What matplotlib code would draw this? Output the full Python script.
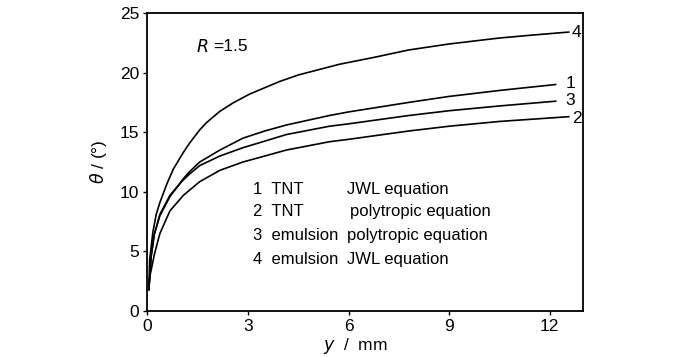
import matplotlib
matplotlib.use("Agg")
import matplotlib.pyplot as plt

plt.rcParams['font.family'] = ['Liberation Sans', 'DejaVu Sans']

# Curve data (y in mm, theta in degrees)
x1 = [0.04, 0.11, 0.2, 0.37, 0.67, 0.94, 1.07, 1.26, 1.56, 2.16, 2.85, 3.5, 4.14, 5.43, 6.0, 7.8, 9.0, 10.5, 12.18]
t1 = [1.8, 4.6, 6.4, 8.0, 9.6, 10.6, 11.1, 11.7, 12.5, 13.5, 14.5, 15.1, 15.6, 16.4, 16.7, 17.5, 18.0, 18.5, 19.0]

x2 = [0.04, 0.07, 0.21, 0.37, 0.67, 1.07, 1.56, 2.16, 2.85, 3.5, 4.14, 5.43, 6.0, 7.8, 9.0, 10.5, 12.57]
t2 = [1.8, 2.9, 4.8, 6.5, 8.4, 9.7, 10.85, 11.8, 12.5, 13.0, 13.5, 14.2, 14.4, 15.1, 15.5, 15.9, 16.3]

x3 = [0.04, 0.11, 0.2, 0.37, 0.67, 0.94, 1.07, 1.26, 1.56, 2.16, 2.85, 3.5, 4.14, 5.43, 6.0, 7.8, 9.0, 10.5, 12.18]
t3 = [1.8, 4.6, 6.4, 8.1, 9.7, 10.6, 11.0, 11.5, 12.2, 13.0, 13.7, 14.25, 14.8, 15.5, 15.7, 16.4, 16.8, 17.2, 17.6]

x4 = [0.04, 0.065, 0.16, 0.26, 0.37, 0.57, 0.77, 1.07, 1.26, 1.56, 1.76, 2.16, 2.55, 3.05, 3.94, 4.5, 5.73, 6.8, 7.8, 9.0, 10.5, 11.5, 12.57]
t4 = [1.8, 4.3, 6.6, 8.1, 9.1, 10.6, 11.9, 13.3, 14.1, 15.2, 15.8, 16.75, 17.45, 18.2, 19.25, 19.8, 20.7, 21.3, 21.9, 22.4, 22.9, 23.15, 23.4]

curve_labels = ["1", "2", "3", "4"]
legend_rows = [("1  TNT", "JWL equation"),
               ("2  TNT", "polytropic equation"),
               ("3  emulsion", "polytropic equation"),
               ("4  emulsion", "JWL equation")]
x_ticks = [0, 3, 6, 9, 12]
y_ticks = [0, 5, 10, 15, 20, 25]

fig = plt.figure(figsize=(7.0, 3.57), dpi=100)
ax = fig.add_axes([0.2107, 0.1289, 0.833 - 0.2107, 0.9636 - 0.1289])

series = [(x1, t1), (x2, t2), (x3, t3), (x4, t4)]
for xs, ts in series:
    ax.plot(xs, ts, color='black', lw=1.2, solid_joinstyle='round')

# curve end labels
label_offsets = {"1": (0.3, 0.1), "2": (0.1, -0.15), "3": (0.3, 0.1), "4": (0.1, 0.0)}
for lab, (xs, ts) in zip(curve_labels, series):
    dx, dy = label_offsets[lab]
    ax.text(xs[-1] + dx, ts[-1] + dy, lab, fontsize=12.5, ha='left', va='center')

ax.set_xlim(0, 13)
ax.set_ylim(0, 25)
ax.set_xticks(x_ticks)
ax.set_yticks(y_ticks)
ax.tick_params(direction='out', length=3, width=1.0, labelsize=12.5, pad=3)
for s in ax.spines.values():
    s.set_linewidth(1.3)

ax.text(1.45, 22.2, r"$\it{R}$", fontsize=12.5, ha='left', va='center')
ax.text(1.95, 22.2, "=1.5", fontsize=12.5, ha='left', va='center')

row_y = [10.2, 8.35, 6.3, 4.3]
col2_x = [5.94, 6.03, 5.94, 5.94]
for (c1, c2), yy, cx in zip(legend_rows, row_y, col2_x):
    ax.text(3.15, yy, c1, fontsize=12, ha='left', va='center')
    ax.text(cx, yy, c2, fontsize=12, ha='left', va='center')

ax.set_xlabel(r"$\it{y}$  /  mm", fontsize=12.5, labelpad=0)
ax.xaxis.set_label_coords(0.4765, -0.085)
ax.set_ylabel(r"$\it{\theta}$ / (°)", fontsize=12.5, labelpad=8)

fig.savefig("out.png", dpi=100)
